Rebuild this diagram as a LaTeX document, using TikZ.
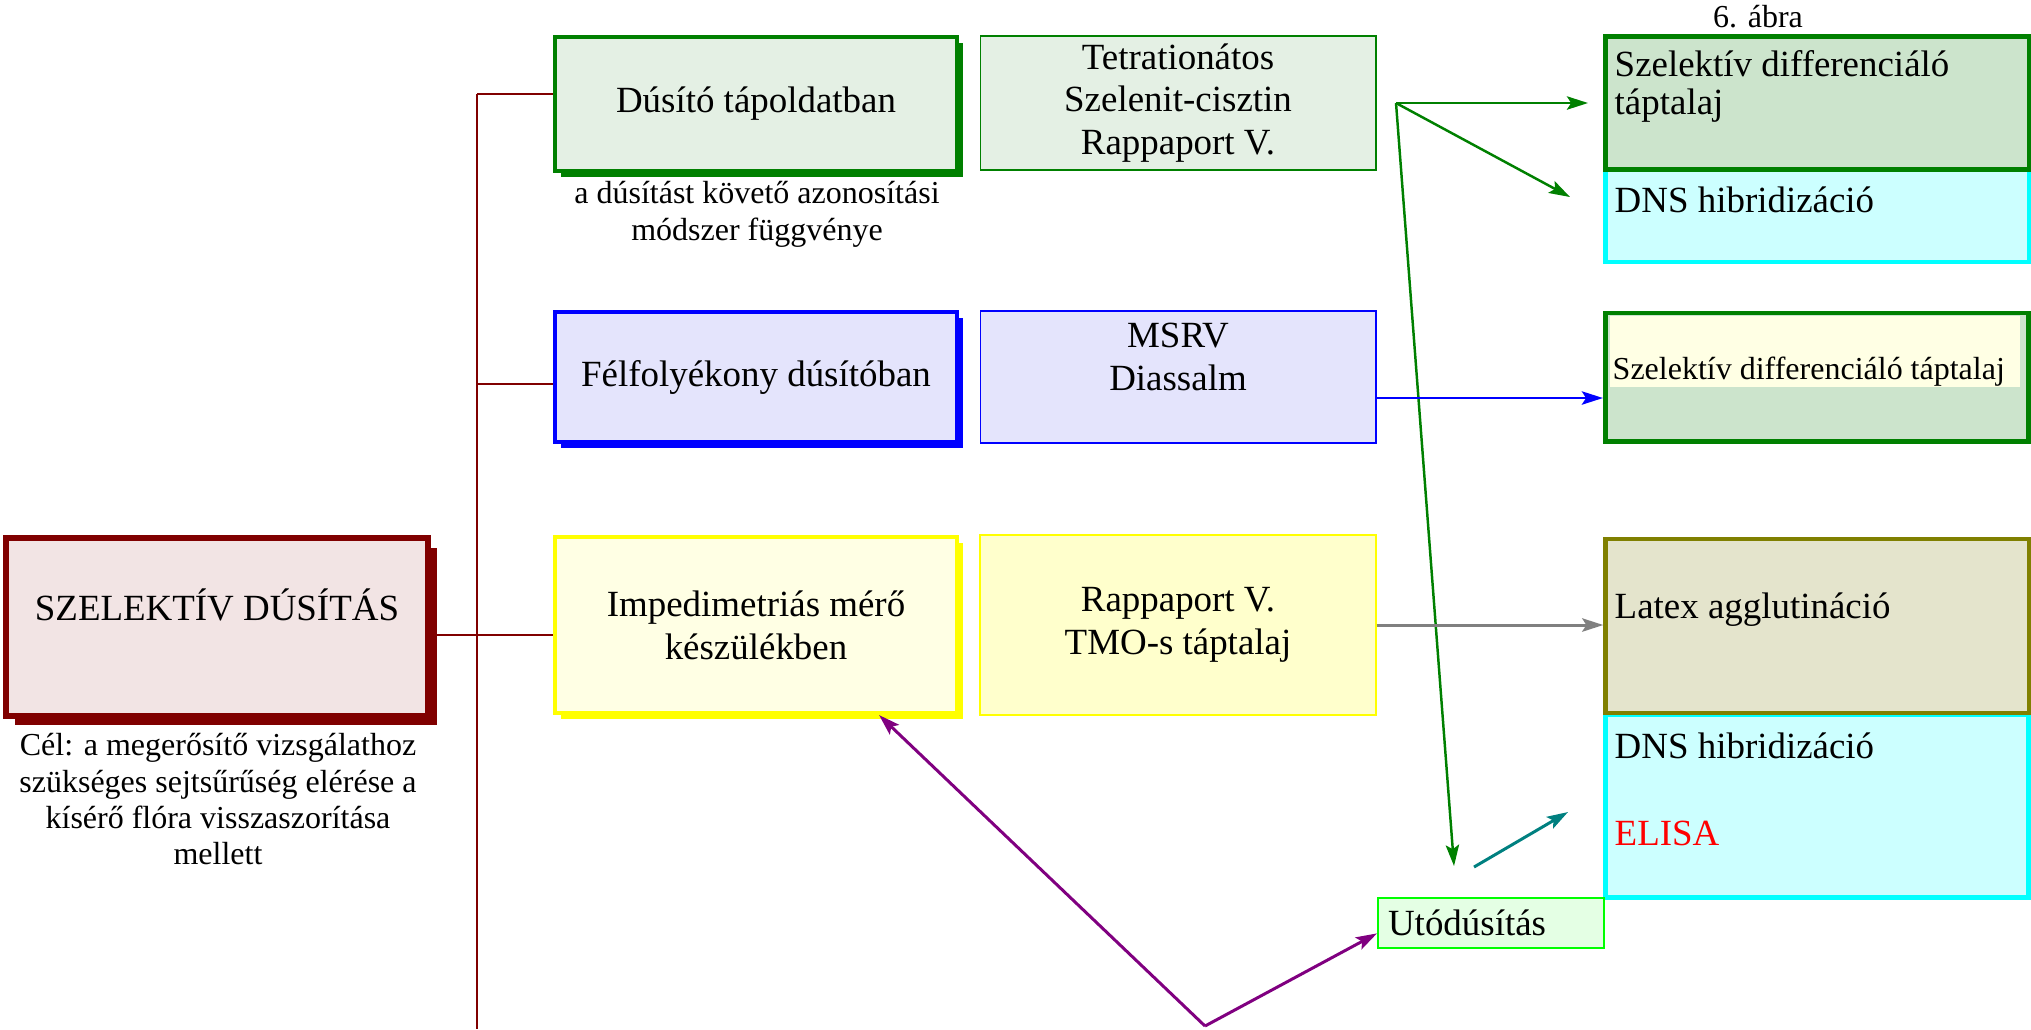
\documentclass[tikz,border=0pt]{standalone}
\usepackage{fontspec}
\setmainfont{Liberation Serif}
\usetikzlibrary{arrows.meta,shadows}
\definecolor{maroon}{RGB}{128,0,0}
\definecolor{leaf}{RGB}{0,128,0}
\definecolor{olivec}{RGB}{128,128,0}
\definecolor{limec}{RGB}{0,255,0}
\definecolor{cyanc}{RGB}{0,255,255}
\definecolor{yellowc}{RGB}{255,255,0}
\definecolor{bluec}{RGB}{0,0,255}
\definecolor{plum}{RGB}{128,0,128}
\definecolor{tealc}{RGB}{0,128,128}
\definecolor{greyc}{RGB}{128,128,128}
\definecolor{redc}{RGB}{255,0,0}
\definecolor{mainfill}{RGB}{242,228,228}
\definecolor{greenfill}{RGB}{228,240,228}
\definecolor{bluefill}{RGB}{228,228,252}
\definecolor{paleyellow}{RGB}{255,255,228}
\definecolor{yellowfill}{RGB}{255,255,204}
\definecolor{sagefill}{RGB}{204,228,204}
\definecolor{cyanfill}{RGB}{204,255,255}
\definecolor{olivefill}{RGB}{228,228,204}
\definecolor{mintfill}{RGB}{228,255,228}

\begin{document}
\begin{tikzpicture}[x=0.01cm,y=-0.01cm,>={Stealth[length=6pt,width=3.8pt,inset=1.2pt]},
  every node/.style={font=\fontsize{10.5}{12.2}\selectfont},
  note/.style={font=\fontsize{9.1}{10.3}\selectfont,align=center,inner sep=0pt},
  mainbox/.style={draw=maroon,fill=mainfill,line width=1.7pt,
    drop shadow={shadow xshift=2.6pt,shadow yshift=-2.6pt,fill=maroon,opacity=1}},
  thickbox/.style={draw=#1,line width=1.14pt,minimum width=4.01cm,align=center,
    drop shadow={shadow xshift=1.7pt,shadow yshift=-1.7pt,fill=#1,opacity=1}},
  plainbox/.style={draw=#1,line width=0.5pt,minimum width=3.95cm,align=center,inner ysep=0pt},
  sidebox/.style={draw=#1,line width=1.2pt,minimum width=4.23cm},
  txt/.style={anchor=base west,inner sep=0pt},
  stem/.style={maroon,line width=0.6pt},
  link/.style={#1,line width=0.7pt,->}
]
\useasboundingbox (0,0) rectangle (2031,1029);

% main box
\node[mainbox,minimum width=4.22cm,minimum height=1.77cm] (main) at (217,627) {};
\node[anchor=base] (maintxt) at (217,620) {SZELEKTÍV DÚSÍTÁS};
\node[note,anchor=north] (goal) at (218,733) {Cél: a megerősítő vizsgálathoz\\szükséges sejtsűrűség elérése a\\kísérő flóra visszaszorítása\\mellett};

% left column
\node[thickbox=leaf,fill=greenfill,minimum height=1.34cm] (dus) at (756,104) {Dúsító tápoldatban};
\node[note,anchor=north] (dusnote) at (757,181) {a dúsítást követő azonosítási\\módszer függvénye};
\node[thickbox=bluec,fill=bluefill,minimum height=1.29cm] (fel) at (756,377) {Félfolyékony dúsítóban};
\node[thickbox=yellowc,fill=paleyellow,minimum height=1.76cm] (imp) at (756,625) {Impedimetriás mérő\\készülékben};

% media
\node[plainbox=leaf,fill=greenfill,minimum height=1.34cm] (tetra) at (1178,103) {Tetrationátos\\Szelenit-cisztin\\Rappaport V.};
\node[plainbox=bluec,fill=bluefill,minimum height=1.32cm] (msrv) at (1178,377) {};
\node[anchor=north,align=center,inner sep=0pt] (msrvtxt) at (1178,322) {MSRV\\Diassalm};
\node[plainbox=yellowc,fill=yellowfill,minimum height=1.80cm,line width=0.6pt] (rap) at (1178,625) {Rappaport V.\\TMO-s táptalaj};

% right column
\node[note,anchor=base] (fig) at (1758,27) {6. ábra};
\node[sidebox=cyanc,fill=cyanfill,minimum height=0.92cm] (dnsA) at (1817,216) {};
\node[sidebox=leaf,fill=sagefill,minimum height=1.33cm] (sdtA) at (1817,103) {};
\node[txt,anchor=north west,align=left,font=\fontsize{10.5}{10.8}\selectfont] (sdtAtxt) at (1614,50) {Szelektív differenciáló\\táptalaj};
\node[txt] (dnsAtxt) at (1614,212) {DNS hibridizáció};
\node[sidebox=leaf,fill=sagefill,minimum height=1.28cm,line width=1.4pt] (sdtB) at (1817,377) {};
\fill[paleyellow] (1610,316) rectangle (2020,387);
\node[txt,font=\fontsize{9.1}{10.3}\selectfont] (sdtBtxt) at (1612,379) {Szelektív differenciáló táptalaj};
\node[sidebox=cyanc,fill=cyanfill,minimum height=1.82cm,line width=1.4pt] (dnsB) at (1817,806) {};
\node[sidebox=olivec,fill=olivefill,minimum height=1.74cm] (lat) at (1817,626) {};
\node[txt] (lattxt) at (1614,618) {Latex agglutináció};
\node[txt] (dnsBtxt) at (1614,758) {DNS hibridizáció};
\node[txt,text=redc] (elisa) at (1614,845) {ELISA};
\node[draw=limec,fill=mintfill,line width=0.6pt,anchor=north west,minimum width=2.26cm,
  minimum height=0.49cm,inner xsep=0.1cm,text width=2.06cm,align=left] (uto) at (1377,897) {Utódúsítás};

% tree
\coordinate (stemtop) at (477,94);
\coordinate (stembot) at (477,1029);
\coordinate (b2) at (477,384);
\coordinate (b3) at (477,635);
\draw[stem] (stemtop) -- (stembot);
\draw[stem] (stemtop) -- (stemtop -| dus.west);
\draw[stem] (b2) -- (b2 -| fel.west);
\draw[stem] (b3 -| main.east) -- (b3 -| imp.west);

% arrows
\coordinate (fork) at (1396,103);
\coordinate (forkA) at (1588,103);
\coordinate (forkB) at (1570,197);
\coordinate (drop) at (1454,866);
\coordinate (relay) at (1474,867);
\coordinate (relayend) at (1568,812);
\coordinate (vee) at (1205,1026);
\coordinate (bl) at (0,398);
\draw[link=leaf] (fork) -- (forkA);
\draw[link=leaf] (fork) -- (forkB);
\draw[link=leaf] (fork) -- (drop);
\draw[link=bluec] (msrv.east |- bl) -- (sdtB.west |- bl);
\draw[link=greyc,line width=0.85pt] (rap.east) -- (rap.east -| lat.west);
\draw[link=tealc,line width=0.85pt] (relay) -- (relayend);
\draw[link=plum,line width=0.85pt] (vee) -- ([xshift=1.23cm]imp.south);
\draw[link=plum,line width=0.85pt] (vee) -- ([yshift=-3pt]uto.west);
\end{tikzpicture}
\end{document}
